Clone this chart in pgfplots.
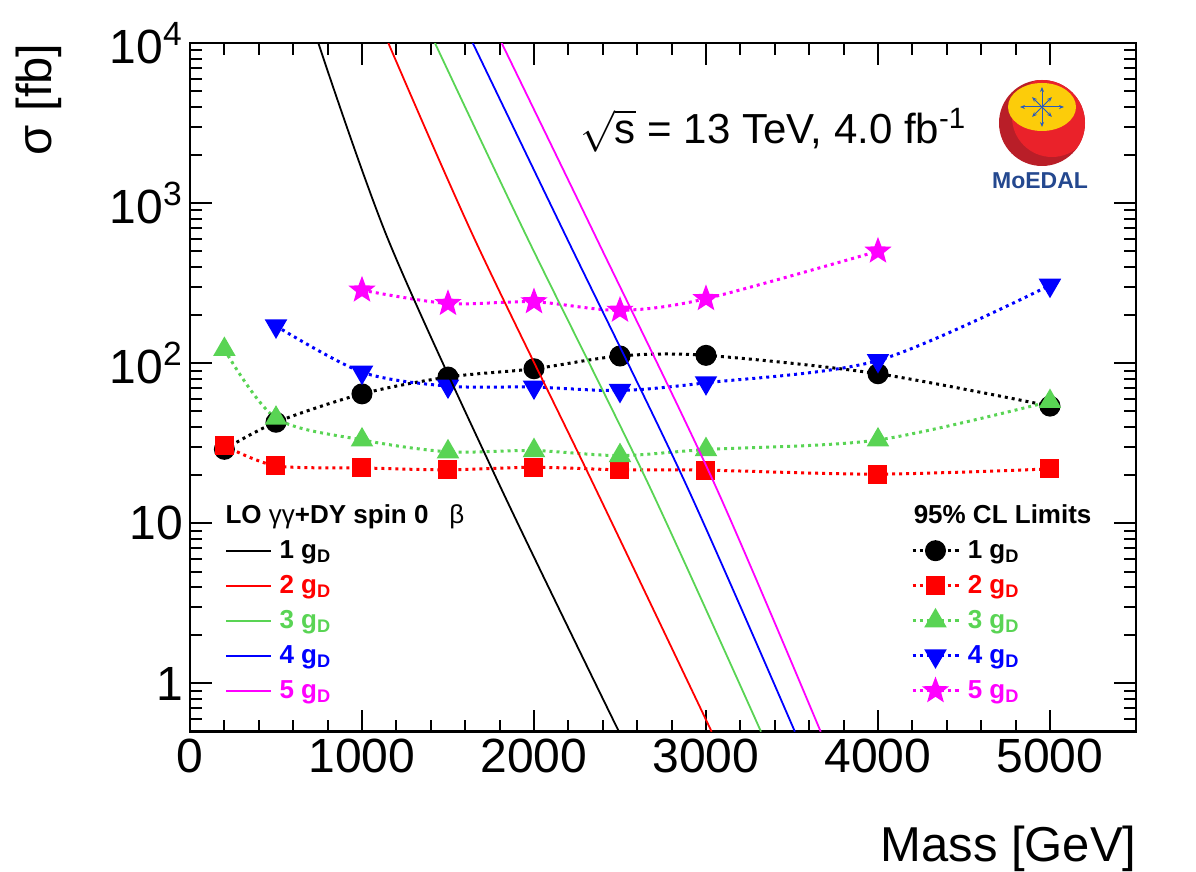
\documentclass[border=0pt]{standalone}
\usepackage{pgfplots}
\pgfplotsset{compat=1.18}
\usetikzlibrary{arrows.meta}
\usepackage{fontspec}
\setmainfont{Liberation Sans}
\definecolor{rblack}{RGB}{0,0,0}
\definecolor{rred}{RGB}{255,0,0}
\definecolor{rgreen}{RGB}{89,212,84}
\definecolor{rblue}{RGB}{0,0,255}
\definecolor{rmag}{RGB}{255,0,255}
\definecolor{logored}{RGB}{234,34,42}
\definecolor{logodark}{RGB}{185,30,40}
\definecolor{logoyel}{RGB}{252,204,10}
\definecolor{logoblue}{RGB}{36,72,143}
\definecolor{arrowblue}{RGB}{40,90,190}

\pgfdeclareplotmark{fstar}{%
 \pgfpathmoveto{\pgfpointpolar{90}{\pgfplotmarksize}}%
 \pgfpathlineto{\pgfpointpolar{126}{0.42\pgfplotmarksize}}%
 \pgfpathlineto{\pgfpointpolar{162}{\pgfplotmarksize}}%
 \pgfpathlineto{\pgfpointpolar{198}{0.42\pgfplotmarksize}}%
 \pgfpathlineto{\pgfpointpolar{234}{\pgfplotmarksize}}%
 \pgfpathlineto{\pgfpointpolar{270}{0.42\pgfplotmarksize}}%
 \pgfpathlineto{\pgfpointpolar{306}{\pgfplotmarksize}}%
 \pgfpathlineto{\pgfpointpolar{342}{0.42\pgfplotmarksize}}%
 \pgfpathlineto{\pgfpointpolar{18}{\pgfplotmarksize}}%
 \pgfpathlineto{\pgfpointpolar{54}{0.42\pgfplotmarksize}}%
 \pgfpathclose
 \pgfusepathqfillstroke}

\pgfplotsset{
  mylim/.style={color=#1, line width=1.5pt, dash pattern=on 1.5pt off 2pt,
    smooth},
  myth/.style={color=#1, line width=0.9pt, no marks, smooth},
}

\begin{document}
\begin{tikzpicture}
\useasboundingbox (-95pt,-70.15pt) rectangle (503pt,365.85pt);

% limits (drawn first, underneath the theory curves)
\begin{axis}[scale only axis, width=473pt, height=344.35pt,
  xmin=0, xmax=5500, ymode=log, ymin=0.5, ymax=10000,
  at={(0pt,0pt)}, anchor=south west, hide axis,
  legend cell align=left,
  legend style={draw=none, fill=none, inner sep=0pt,
    font=\fontsize{13}{15}\selectfont\bfseries,
    nodes={inner sep=1pt}, row sep=5pt,
    /tikz/every odd column/.append style={column sep=3pt},
    at={(0.762,0.3335)}, anchor=north west},
  legend image code/.code={\draw[mark repeat=2,mark phase=2,#1] plot coordinates {(0cm,0cm) (0.4cm,0cm) (0.8cm,0cm)};}]
\addlegendimage{empty legend}
\addlegendentry[text=black]{\hspace*{-27pt}95\% CL Limits}
\addplot[mylim=rblack, mark=*, mark size=4.5pt, mark options={solid, fill=rblack}] coordinates {
 (200,29) (500,42.8) (1000,64.4) (1500,82) (2000,92.4) (2500,111) (3000,112) (4000,86) (5000,54)};
\addlegendentry[text=rblack]{1 g\textsubscript{D}}
\addplot[mylim=rred, mark=square*, mark size=4pt, mark options={solid, fill=rred}] coordinates {
 (200,30.6) (500,22.9) (1000,22.2) (1500,21.6) (2000,22.4) (2500,21.6) (3000,21.5) (4000,20.3) (5000,21.9)};
\addlegendentry[text=rred]{2 g\textsubscript{D}}
\addplot[mylim=rgreen, mark=triangle*, mark size=5pt, mark options={solid, fill=rgreen}] coordinates {
 (200,122) (500,45.4) (1000,33.2) (1500,28) (2000,28.5) (2500,26.5) (3000,28.9) (4000,33.2) (5000,57.7)};
\addlegendentry[text=rgreen]{3 g\textsubscript{D}}
\addplot[mylim=rblue, mark=triangle*, mark size=5pt, mark options={solid, fill=rblue, rotate=180}] coordinates {
 (500,171) (1000,88) (1500,72) (2000,71) (2500,67.6) (3000,75.5) (4000,104) (5000,307)};
\addlegendentry[text=rblue]{4 g\textsubscript{D}}
\addplot[mylim=rmag, mark=fstar, mark size=5pt, mark options={solid, fill=rmag}] coordinates {
 (1000,286) (1500,236) (2000,242) (2500,214) (3000,253) (4000,501)};
\addlegendentry[text=rmag]{5 g\textsubscript{D}}
\end{axis}

% theory curves with the visible frame
\begin{axis}[scale only axis, width=473pt, height=344.35pt,
  xmin=0, xmax=5500, ymode=log, ymin=0.5, ymax=10000,
  at={(0pt,0pt)}, anchor=south west,
  legend cell align=left,
  legend style={draw=none, fill=none, inner sep=0pt,
    font=\fontsize{13}{15}\selectfont\bfseries,
    nodes={inner sep=1pt}, row sep=5pt,
    /tikz/every odd column/.append style={column sep=3pt},
    at={(0.037,0.3335)}, anchor=north west},
  legend image code/.code={\draw[#1] (0cm,0cm) -- (0.78cm,0cm);},
  tick align=inside,
  xtick={0,1000,2000,3000,4000,5000},
  xticklabels={0,1000,2000,3000,4000,5000},
  minor x tick num=4,
  ytick={1,10,100,1000,10000},
  yticklabels={1,10,10\textsuperscript{2},10\textsuperscript{3},10\textsuperscript{4}},
  minor ytick={0.6,0.7,0.8,0.9,2,3,4,5,6,7,8,9,20,30,40,50,60,70,80,90,200,300,400,500,600,700,800,900,2000,3000,4000,5000,6000,7000,8000,9000},
  major tick length=11pt, minor tick length=6pt,
  tick style={black, line width=1pt},
  axis line style={line width=1.2pt},
  tick label style={font=\fontsize{24}{28}\selectfont},
  xlabel={Mass [GeV]}, ylabel={σ [fb]},
  label style={font=\fontsize{24.5}{28}\selectfont, inner sep=0pt},
  xlabel style={at={(rel axis cs:1.001,-0.189)}, anchor=base east},
  ylabel style={at={(rel axis cs:-0.146,1.0)}, anchor=base east}]
\addlegendimage{empty legend}
\addlegendentry[text=black]{\hspace*{-27pt}LO \mdseries γγ\bfseries+DY spin 0\hspace{0.8em}\mdseries β}
\addplot[myth=rblack] coordinates {
 (746,10000) (1153,589) (1797,17.6) (2494,0.5)};
\addlegendentry[text=rblack]{1 g\textsubscript{D}}
\addplot[myth=rred] coordinates {
 (1153,10000) (1657,589) (2345,17.6) (3033,0.5)};
\addlegendentry[text=rred]{2 g\textsubscript{D}}
\addplot[myth=rgreen] coordinates {
 (1424,10000) (1967,589) (2665,17.6) (3320,0.5)};
\addlegendentry[text=rgreen]{3 g\textsubscript{D}}
\addplot[myth=rblue] coordinates {
 (1644,10000) (2196,589) (2883,17.6) (3517,0.5)};
\addlegendentry[text=rblue]{4 g\textsubscript{D}}
\addplot[myth=rmag] coordinates {
 (1812,10000) (2368,589) (3050,17.6) (3667,0.5)};
\addlegendentry[text=rmag]{5 g\textsubscript{D}}
\end{axis}

% energy / luminosity text
\node[anchor=base west, font=\fontsize{21}{25}\selectfont, inner sep=0pt] at (195pt,293.85pt)
  {$\sqrt{\mbox{s}}$ = 13 TeV, 4.0 fb\textsuperscript{-1}};

% MoEDAL logo
\begin{scope}[shift={(426pt,304.35pt)}]
  \fill[logodark] (0,0) circle (21.5pt);
  \begin{scope}
    \clip (0,0) circle (21.5pt);
    \fill[logored] (5pt,3pt) circle (20pt);
  \end{scope}
  \fill[logoyel] (0,8pt) ellipse (17pt and 12pt);
  \foreach \a/\l in {90/10,270/10,0/11,180/11,45/7,135/7,225/7,315/7}
    \draw[arrowblue, line width=0.5pt, -{Stealth[length=2.5pt,width=2pt]}] (0,8pt) -- ++(\a:\l pt);
\end{scope}
\node[font=\fontsize{11.5}{13}\selectfont\bfseries, text=logoblue, inner sep=0pt] at (425pt,275.35pt) {MoEDAL};
\end{tikzpicture}
\end{document}
